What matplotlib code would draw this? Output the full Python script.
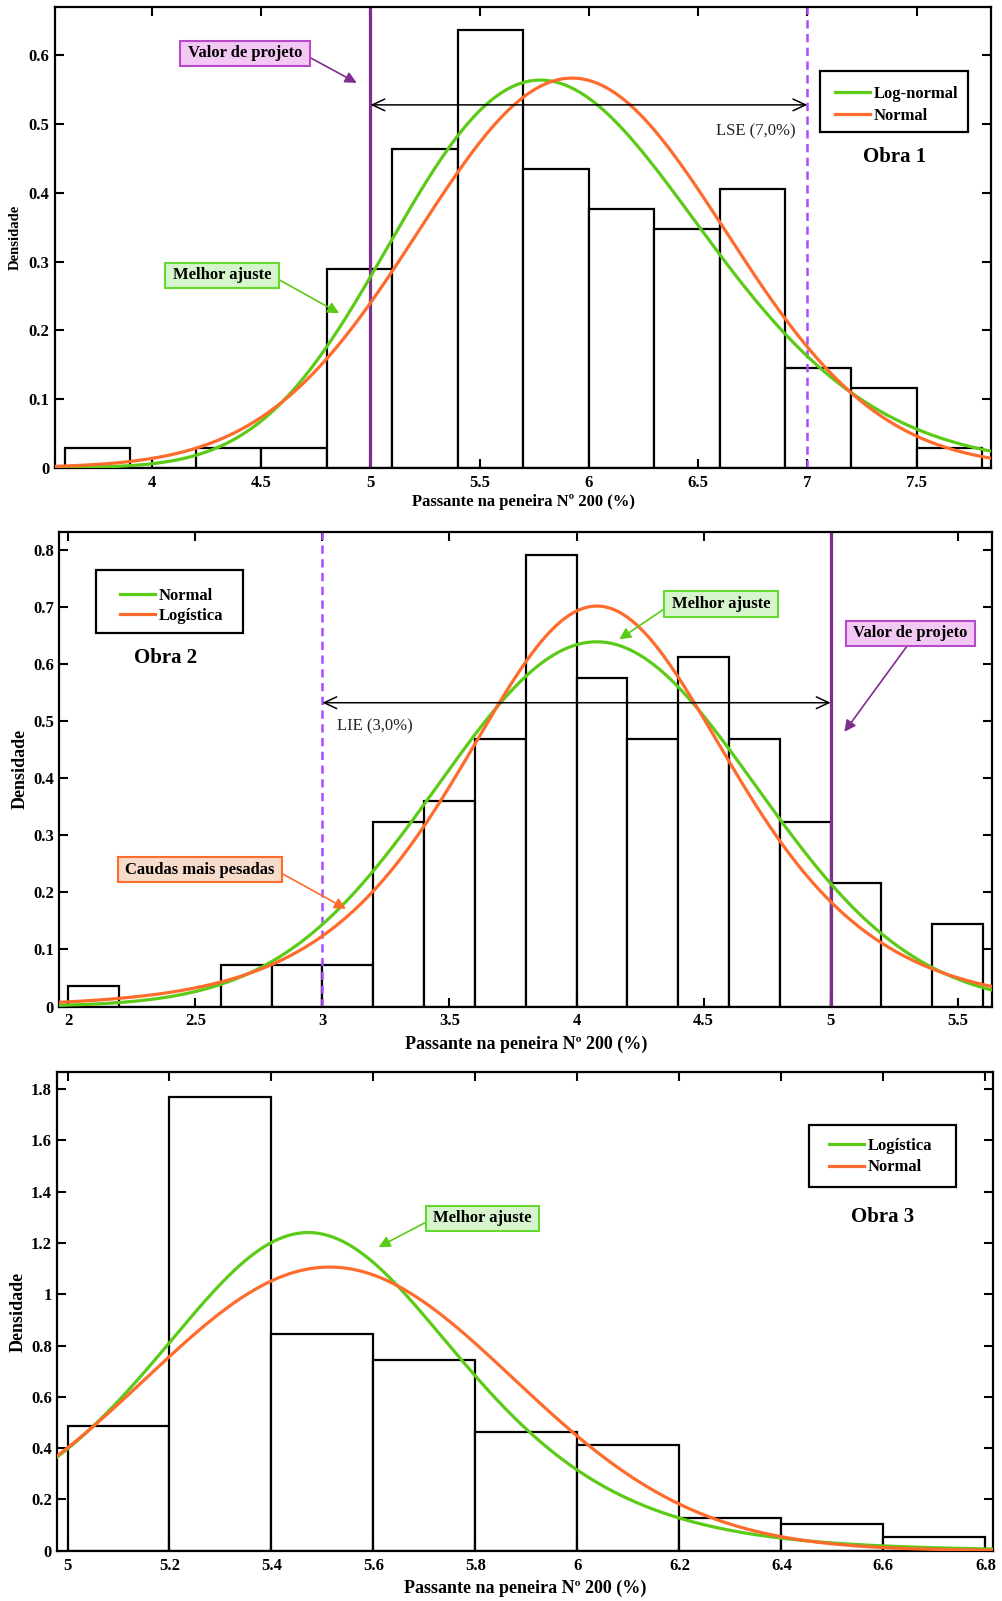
import numpy as np
import matplotlib
matplotlib.use('Agg')
import matplotlib.pyplot as plt
from matplotlib.patches import Rectangle
from matplotlib.path import Path
from matplotlib.ticker import MultipleLocator, FuncFormatter

plt.rcParams['font.family'] = 'Liberation Serif'
plt.rcParams['font.weight'] = 'bold'
plt.rcParams['axes.labelweight'] = 'bold'

GREEN = '#5BCB17'
ORANGE = '#FF6B2C'
PURPLE = '#7E2F8E'
VIOLET = '#A84CFF'

XLABEL = 'Passante na peneira Nº 200 (%)'

# Obra 1: histogram (bin width 0.3) and fitted distributions
obra1_edges = [3.6, 3.9, 4.2, 4.5, 4.8, 5.1, 5.4, 5.7, 6.0, 6.3, 6.6, 6.9, 7.2, 7.5, 7.8]
obra1_counts = [1, 0, 1, 1, 10, 16, 22, 15, 13, 12, 14, 5, 4, 1]
obra1_lognormal = (1.7688, 0.1215)   # mu, sigma of ln(x)
obra1_normal = (5.923, 0.7036)       # mean, std

# Obra 2: histogram (bin width 0.2) and fitted distributions
obra2_edges = [2.0, 2.2, 2.4, 2.6, 2.8, 3.0, 3.2, 3.4, 3.6, 3.8, 4.0,
               4.2, 4.4, 4.6, 4.8, 5.0, 5.2, 5.4, 5.6]
obra2_counts = [1, 0, 0, 2, 2, 2, 9, 10, 13, 22, 16, 13, 17, 13, 9, 6, 0, 4]
obra2_normal = (4.079, 0.6246)       # mean, std
obra2_logistic = (4.08, 0.3565)      # location, scale

# Obra 3: histogram (bin width 0.2) and fitted distributions
obra3_edges = [5.0, 5.2, 5.4, 5.6, 5.8, 6.0, 6.2, 6.4, 6.6, 6.8]
obra3_counts = [19, 69, 33, 29, 18, 16, 5, 4, 2]
obra3_logistic = (5.472, 0.2015)     # location, scale
obra3_normal = (5.514, 0.3607)       # mean, std


def normal_pdf(x, mu, sd):
    return np.exp(-0.5 * ((x - mu) / sd) ** 2) / (sd * np.sqrt(2 * np.pi))


def lognormal_pdf(x, mu, s):
    return np.exp(-0.5 * ((np.log(x) - mu) / s) ** 2) / (x * s * np.sqrt(2 * np.pi))


def logistic_pdf(x, mu, s):
    z = np.exp(-(x - mu) / s)
    return z / (s * (1 + z) ** 2)


def text_box(padx, pady):
    # square box with separate horizontal / vertical padding
    def box(x0, y0, width, height, mutation_size):
        px, py = padx * mutation_size, pady * mutation_size
        x0, y0 = x0 - px, y0 - py
        x1, y1 = x0 + width + 2 * px, y0 + height + 2 * py
        return Path([(x0, y0), (x1, y0), (x1, y1), (x0, y1), (x0, y0)], closed=True)
    return box


def draw_hist(ax, edges, counts):
    edges = np.array(edges)
    centers = (edges[:-1] + edges[1:]) / 2
    ax.hist(centers, bins=edges, weights=counts, density=True,
            facecolor='white', edgecolor='black', linewidth=1.6, zorder=1)


def style_axes(ax, xlim, ylim, xstep, ystep, xlab_y, ylab_x, xlab_size, ylab_size):
    ax.set_xlim(*xlim)
    ax.set_ylim(*ylim)
    ax.xaxis.set_major_locator(MultipleLocator(xstep))
    ax.yaxis.set_major_locator(MultipleLocator(ystep))
    fmt = FuncFormatter(lambda v, p: '%g' % round(v, 4))
    ax.xaxis.set_major_formatter(fmt)
    ax.yaxis.set_major_formatter(fmt)
    ax.tick_params(direction='in', top=True, right=True, length=6.5, width=1.5,
                   labelsize=12)
    ax.tick_params(axis='x', pad=5)
    ax.tick_params(axis='y', pad=4)
    for sp in ax.spines.values():
        sp.set_linewidth(1.6)
    ax.set_xlabel(XLABEL, fontsize=xlab_size)
    ax.set_ylabel('Densidade', fontsize=ylab_size)
    ax.xaxis.set_label_coords(0.5, xlab_y)
    ax.yaxis.set_label_coords(ylab_x, 0.5)


def add_legend(ax, labels, frame, handle_x, row_top, spacing):
    # frame = (x0, y0, x1, y1) in axes fraction
    x0, y0, x1, y1 = frame
    ax.add_patch(Rectangle((x0, y0), x1 - x0, y1 - y0, transform=ax.transAxes,
                           fc='white', ec='black', lw=1.6, zorder=5))
    handles = [plt.Line2D([], [], color=GREEN, lw=2.3),
               plt.Line2D([], [], color=ORANGE, lw=2.3)]
    leg = ax.legend(handles, labels, loc='upper left',
                    bbox_to_anchor=(handle_x, row_top), fontsize=12,
                    frameon=False, borderpad=0, labelspacing=spacing,
                    handlelength=2.1, handletextpad=0.2, borderaxespad=0)
    leg.set_zorder(6)


def callout(ax, text, xy, xytext, fc, ec, arrow_color, relpos):
    ax.annotate(text, xy=xy, xytext=xytext, ha='center', va='center',
                fontsize=12, fontweight='bold', zorder=6,
                bbox=dict(boxstyle=text_box(0.45, 0.28), fc=fc, ec=ec, lw=1.5),
                arrowprops=dict(arrowstyle='-|>', color=arrow_color, lw=1.2,
                                relpos=relpos, shrinkA=0, shrinkB=0,
                                mutation_scale=17))


def spec_arrow(ax, x0, x1, y):
    ax.annotate('', xy=(x1, y), xytext=(x0, y), zorder=4,
                arrowprops=dict(arrowstyle='<->,head_length=0.6,head_width=0.28',
                                color='black', lw=1.1, shrinkA=0, shrinkB=0,
                                mutation_scale=15))


fig = plt.figure(figsize=(10.02, 16.01), dpi=100)

# ---------------- Obra 1 ----------------
ax1 = fig.add_axes([0.0549, 0.70787, 0.9346, 0.28757])
xlim1 = (3.556, 7.843)
draw_hist(ax1, obra1_edges, obra1_counts)
xs = np.linspace(xlim1[0], xlim1[1], 400)
ax1.plot(xs, lognormal_pdf(xs, *obra1_lognormal), color=GREEN, lw=2.3, zorder=3)
ax1.plot(xs, normal_pdf(xs, *obra1_normal), color=ORANGE, lw=2.3, zorder=3)
ax1.axvline(5.0, color=PURPLE, lw=2.3, zorder=2.5)
ax1.axvline(7.0, color=VIOLET, lw=1.8, dashes=(3.3, 2.2), zorder=2.5)
spec_arrow(ax1, 5.0, 7.0, 0.528)
ax1.text(6.764, 0.490, 'LSE (7,0%)', ha='center', va='center', fontsize=12,
         fontweight='normal', color='#222222')
callout(ax1, 'Valor de projeto', (4.937, 0.560), (4.426, 0.603),
        '#F4C8F4', '#B54BC8', PURPLE, (1, 0.5))
callout(ax1, 'Melhor ajuste', (4.857, 0.2248), (4.321, 0.2798),
        '#D6F5CC', '#66D92E', GREEN, (1, 0.5))
add_legend(ax1, ['Log-normal', 'Normal'], (0.8169, 0.7298, 0.9746, 0.8616),
           0.8329, 0.8286, 0.35)
ax1.text(0.8968, 0.6755, 'Obra 1', transform=ax1.transAxes, ha='center',
         va='center', fontsize=15, fontweight='bold')
style_axes(ax1, xlim1, (0, 0.670), 0.5, 0.1, -0.058, -0.036, 12, 10.5)

# ---------------- Obra 2 ----------------
ax2 = fig.add_axes([0.0592, 0.37133, 0.9311, 0.29638])
xlim2 = (1.965, 5.636)
draw_hist(ax2, obra2_edges, obra2_counts)
xs = np.linspace(xlim2[0], xlim2[1], 400)
ax2.plot(xs, normal_pdf(xs, *obra2_normal), color=GREEN, lw=2.3, zorder=3)
ax2.plot(xs, logistic_pdf(xs, *obra2_logistic), color=ORANGE, lw=2.3, zorder=3)
ax2.axvline(5.0, color=PURPLE, lw=2.3, zorder=2.5)
ax2.axvline(3.0, color=VIOLET, lw=1.8, dashes=(3.3, 2.2), zorder=2.5)
spec_arrow(ax2, 5.0, 3.0, 0.532)
ax2.text(3.205, 0.490, 'LIE (3,0%)', ha='center', va='center', fontsize=12,
         fontweight='normal', color='#222222')
callout(ax2, 'Caudas mais pesadas', (3.093, 0.171), (2.519, 0.2398),
        '#F7DCCB', '#FF6B2C', ORANGE, (1, 0.5))
callout(ax2, 'Melhor ajuste', (4.168, 0.643), (4.568, 0.7051),
        '#D6F5CC', '#66D92E', GREEN, (0, 0.5))
callout(ax2, 'Valor de projeto', (5.054, 0.481), (5.314, 0.6534),
        '#F4C8F4', '#B54BC8', PURPLE, (0.5, 0))
add_legend(ax2, ['Normal', 'Logística'], (0.0393, 0.7876, 0.1972, 0.9198),
           0.0651, 0.8823, 0.25)
ax2.text(0.1144, 0.7335, 'Obra 2', transform=ax2.transAxes, ha='center',
         va='center', fontsize=15, fontweight='bold')
style_axes(ax2, xlim2, (0, 0.831), 0.5, 0.1, -0.061, -0.033, 13, 13)

# ---------------- Obra 3 ----------------
ax3 = fig.add_axes([0.0572, 0.03148, 0.9338, 0.29863])
xlim3 = (4.98, 6.815)
draw_hist(ax3, obra3_edges, obra3_counts)
xs = np.linspace(xlim3[0], xlim3[1], 400)
ax3.plot(xs, logistic_pdf(xs, *obra3_logistic), color=GREEN, lw=2.3, zorder=3)
ax3.plot(xs, normal_pdf(xs, *obra3_normal), color=ORANGE, lw=2.3, zorder=3)
callout(ax3, 'Melhor ajuste', (5.610, 1.184), (5.814, 1.296),
        '#D6F5CC', '#66D92E', GREEN, (0, 0.5))
add_legend(ax3, ['Logística', 'Normal'], (0.8034, 0.7605, 0.9605, 0.891),
           0.8251, 0.864, 0.35)
ax3.text(0.8823, 0.698, 'Obra 3', transform=ax3.transAxes, ha='center',
         va='center', fontsize=15, fontweight='bold')
style_axes(ax3, xlim3, (0, 1.865), 0.2, 0.2, -0.061, -0.033, 13, 13)

fig.savefig('out.png', dpi=100)
